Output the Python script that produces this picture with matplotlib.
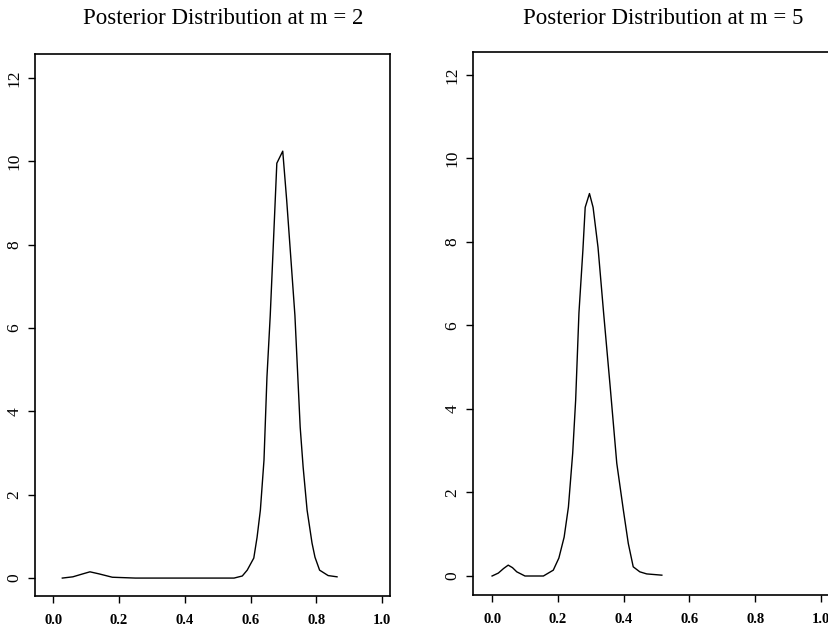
import matplotlib
matplotlib.use("Agg")
import matplotlib.pyplot as plt

# m = 2 posterior
x_m2 = [0.028, 0.06, 0.09, 0.112, 0.14, 0.18, 0.25, 0.35, 0.45, 0.55, 0.575, 0.59, 0.61, 0.62, 0.63,
        0.641, 0.65, 0.66, 0.668, 0.680, 0.698, 0.710, 0.723, 0.735, 0.751, 0.76, 0.772, 0.787,
        0.796, 0.81, 0.836, 0.863]
y_m2 = [0.0, 0.03, 0.10, 0.15, 0.10, 0.02, 0.0, 0.0, 0.0, 0.0, 0.05, 0.19, 0.48, 0.98, 1.63,
        2.83, 4.82, 6.3, 7.75, 9.95, 10.24, 9.06, 7.63, 6.3, 3.62, 2.66, 1.63, 0.84,
        0.5, 0.19, 0.06, 0.03]

# m = 5 posterior
x_m5 = [0.0, 0.019, 0.035, 0.049, 0.062, 0.075, 0.1, 0.13, 0.156, 0.186, 0.203, 0.219, 0.232,
        0.245, 0.254, 0.264, 0.276, 0.283, 0.296, 0.307, 0.322, 0.339, 0.359, 0.379, 0.399,
        0.414, 0.429, 0.449, 0.47, 0.516]
y_m5 = [0.0, 0.07, 0.18, 0.26, 0.2, 0.1, 0.0, 0.0, 0.0, 0.14, 0.43, 0.93, 1.65,
        2.94, 4.21, 6.3, 7.8, 8.83, 9.16, 8.83, 7.87, 6.3, 4.53, 2.7, 1.58,
        0.78, 0.22, 0.1, 0.05, 0.02]

titles = ["Posterior Distribution at m = 2", "Posterior Distribution at m = 5"]
x_ticks = [0.0, 0.2, 0.4, 0.6, 0.8, 1.0]
x_ticklabels = ["0.0", "0.2", "0.4", "0.6", "0.8", "1.0"]
y_ticks = [0, 2, 4, 6, 8, 10, 12]

W, H = 829, 630
fig = plt.figure(figsize=(W / 100, H / 100), dpi=100)
serif = ["Liberation Serif", "DejaVu Serif"]

def px_axes(l, r, t, b):
    return fig.add_axes([l / W, 1 - b / H, (r - l) / W, (b - t) / H])

ax1 = px_axes(35, 390, 54, 596)
ax1.set_xlim(-0.055, 1.024)
ax1.set_ylim(-0.43, 12.57)
ax2 = px_axes(473, 832, 52, 595)
ax2.set_xlim(-0.058, -0.058 + 359 / 329)
ax2.set_ylim(-0.455, 12.55)

for ax, xs, ys, title, cx in [(ax1, x_m2, y_m2, titles[0], 223), (ax2, x_m5, y_m5, titles[1], 663)]:
    ax.plot(xs, ys, color="black", lw=1.0)
    ax.set_xticks(x_ticks)
    ax.set_xticklabels(x_ticklabels, fontfamily=serif, fontsize=10.5, fontweight="bold")
    ax.set_yticks(y_ticks)
    ax.set_yticklabels([str(v) for v in y_ticks], fontfamily=serif, fontsize=12.5,
                       rotation=90, va="center")
    ax.tick_params(direction="out", length=5, width=1.0, colors="black")
    ax.tick_params(axis="x", pad=8)
    ax.tick_params(axis="y", pad=4)
    for s in ax.spines.values():
        s.set_linewidth(1.2)
    fig.text(cx / W, 1 - 18 / H, title, ha="center", va="center", fontsize=16.5,
             fontfamily=serif)

fig.savefig("out.png", dpi=100)
